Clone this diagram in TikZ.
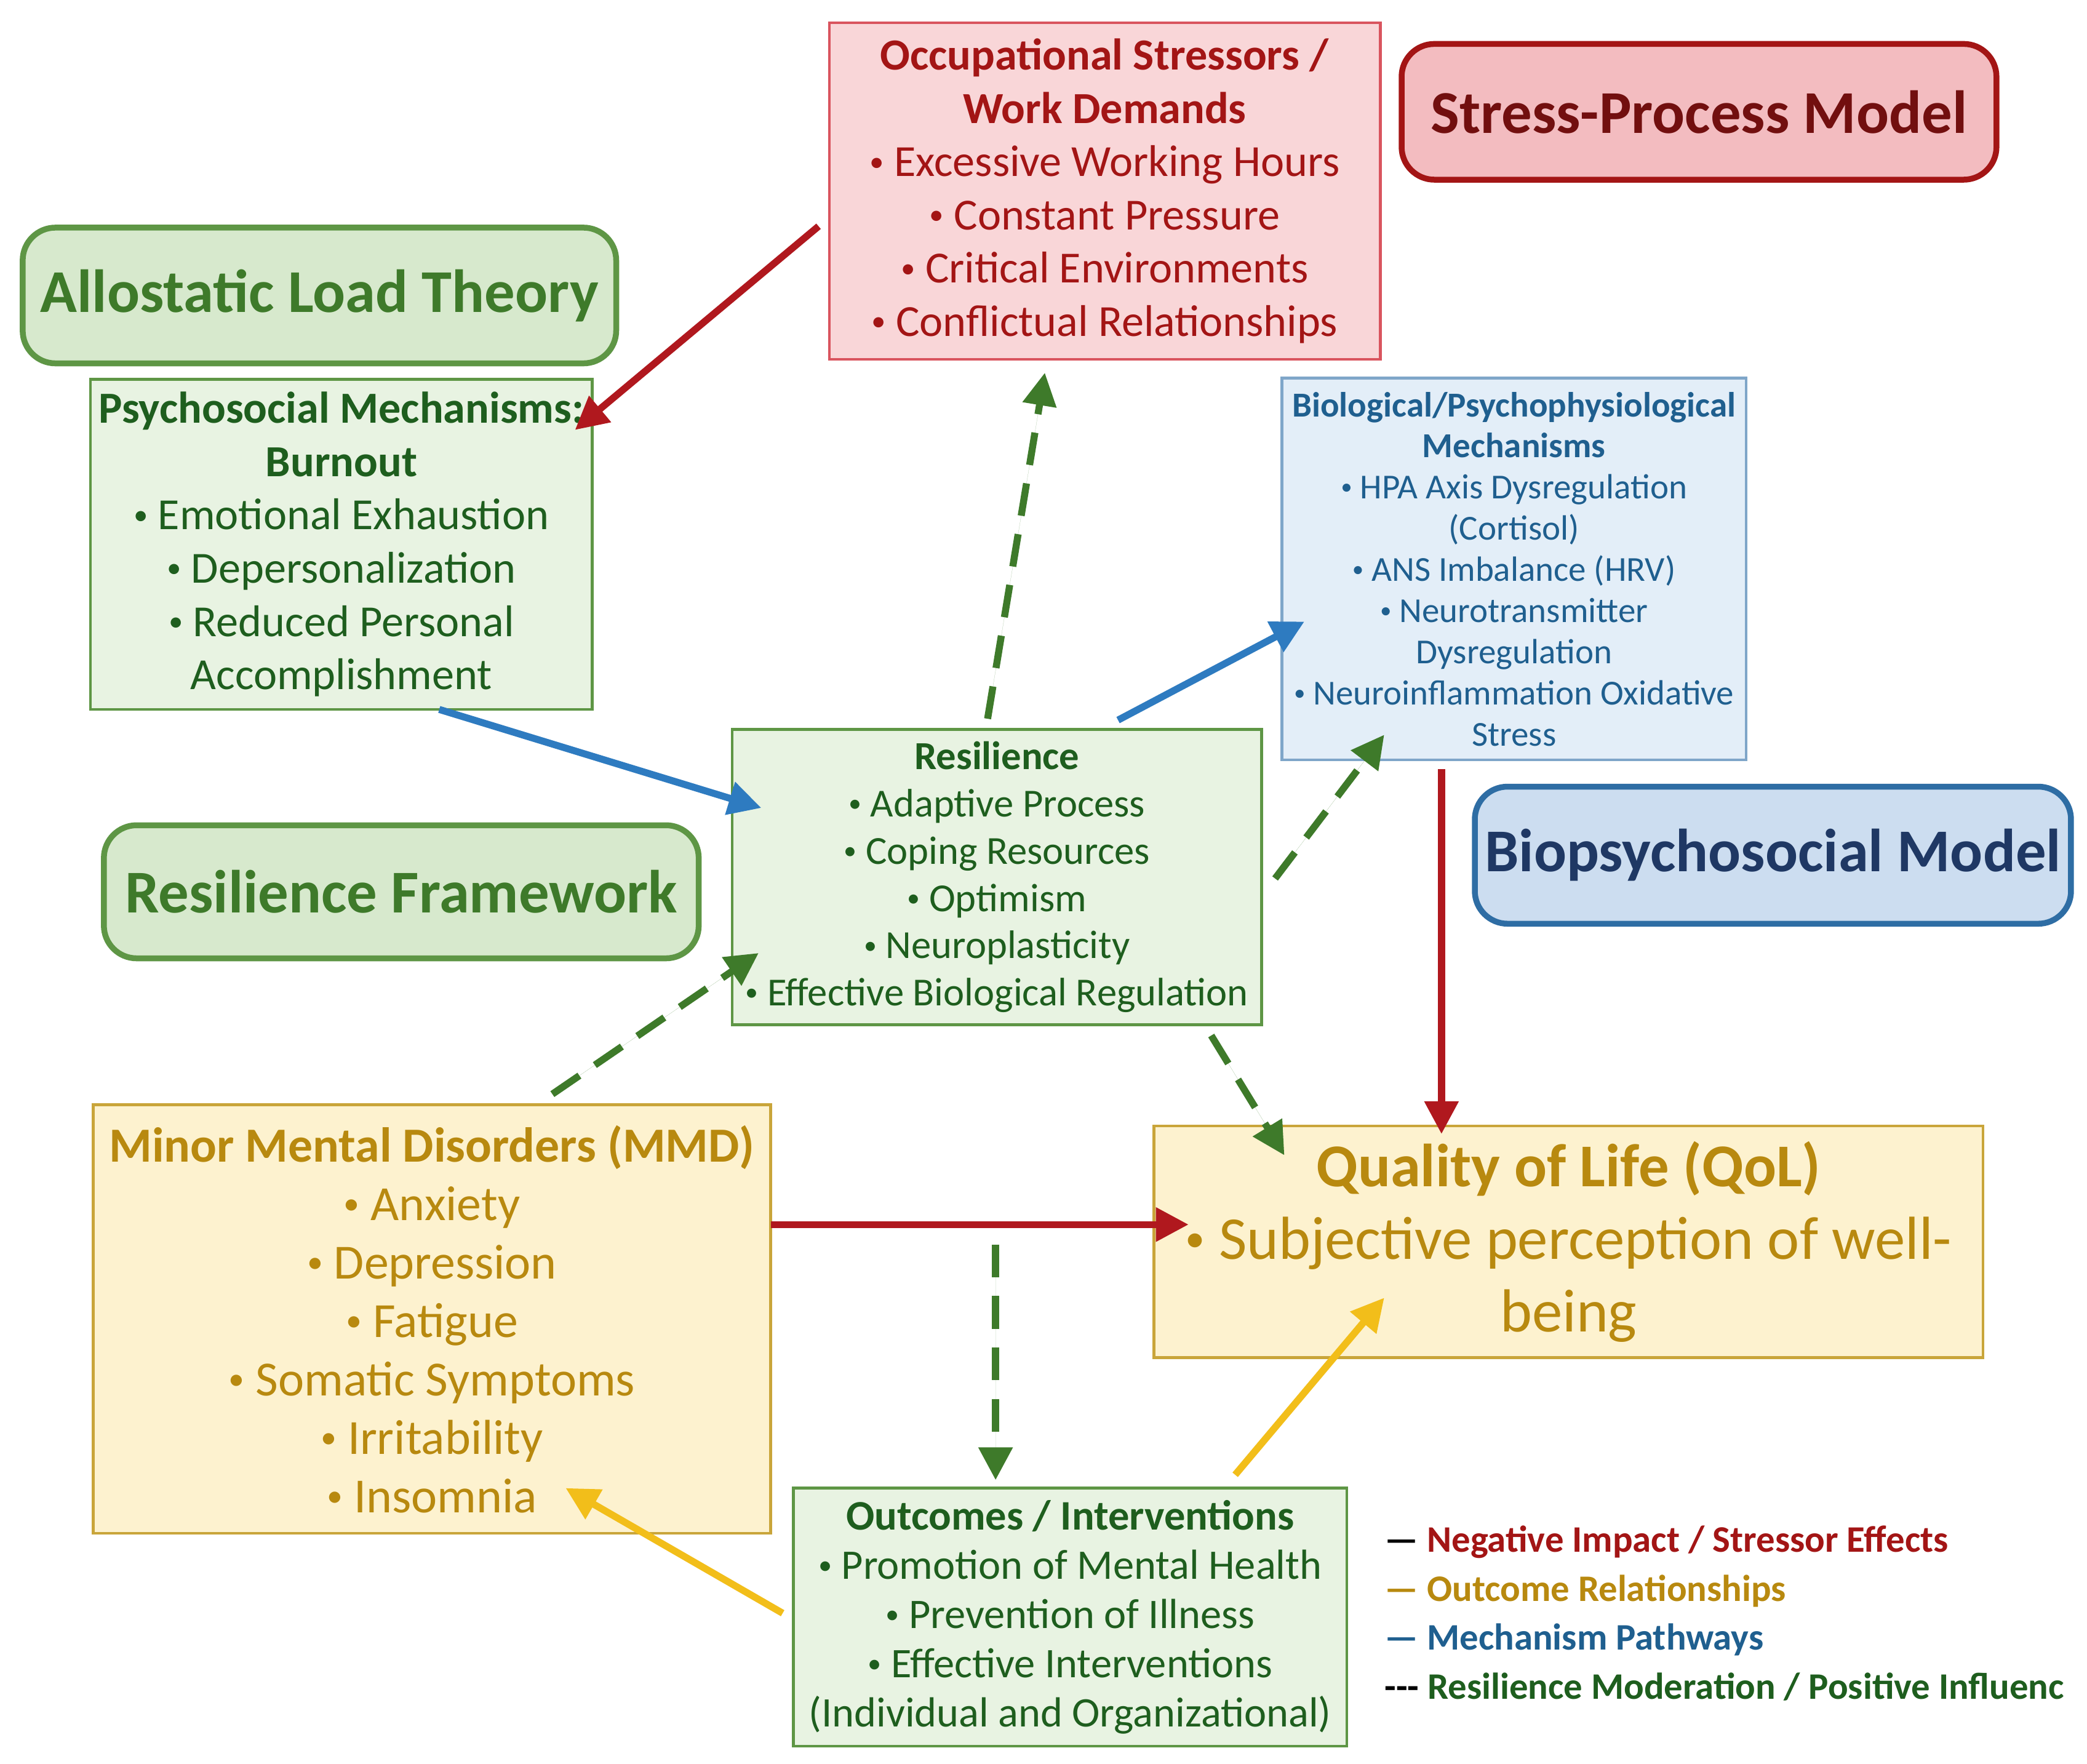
\documentclass[tikz,border=0pt]{standalone}
\usepackage{fontspec}
\setmainfont{Carlito}
\usetikzlibrary{arrows.meta}
\newcommand{\bl}{\raisebox{0.12em}{\scalebox{0.65}{•}}\ }
\definecolor{dred}{HTML}{A31515}
\definecolor{pinkf}{HTML}{F9D6D8}
\definecolor{pinkb}{HTML}{D9545E}
\definecolor{gfill}{HTML}{E8F3E2}
\definecolor{gfill2}{HTML}{D7E9CD}
\definecolor{gbord}{HTML}{5E9645}
\definecolor{dgreen}{HTML}{1E5E1E}
\definecolor{bfill}{HTML}{E3EEF8}
\definecolor{bfill2}{HTML}{CCDDF0}
\definecolor{bbord}{HTML}{7FA6C9}
\definecolor{bbord2}{HTML}{2E6DA4}
\definecolor{btext}{HTML}{1F5F8F}
\definecolor{dblue}{HTML}{1F3864}
\definecolor{yfill}{HTML}{FDF2CF}
\definecolor{ybord}{HTML}{C9A53A}
\definecolor{ytext}{HTML}{B8890F}
\definecolor{yarr}{HTML}{F2BE1A}
\definecolor{barr}{HTML}{2E7BC0}
\definecolor{garr}{HTML}{3E7A2A}
\definecolor{rarr}{HTML}{B0181E}
\tikzset{
 box/.style={draw, line width=1.2pt, align=center, inner sep=2pt},
 model/.style={draw, rounded corners=14pt, line width=2.5pt, align=center, font=\bfseries\fontsize{26}{30}\selectfont},
 arr/.style={line width=3pt, -{Triangle[length=14pt,width=14pt]}},
 darr/.style={arr, dash pattern=on 14pt off 8pt, draw=garr, fill=garr},
}
\begin{document}
\begin{tikzpicture}[x=0.02cm,y=-0.02cm]
\useasboundingbox[fill=white] (0,0) rectangle (1568,1325);
\node[box, fill=pinkf, draw=pinkb, minimum width=8.28cm, minimum height=5.06cm, text=dred, font=\fontsize{19}{22.8}\selectfont] (occ) at (830,143.5)
 {\textbf{Occupational Stressors /}\\\textbf{Work Demands}\\\bl Excessive Working Hours\\\bl Constant Pressure\\\bl Critical Environments\\\bl Conflictual Relationships};
\node[model, fill=pinkf!80!pinkb, draw=dred, text=dred!70!black, minimum width=8.94cm, minimum height=2.04cm] (spm) at (1276.5,84) {Stress-Process Model};
\node[model, fill=gfill2, draw=gbord, text=garr, minimum width=8.92cm, minimum height=2.04cm] (alt) at (240,222) {Allostatic Load Theory};
\node[box, fill=gfill, draw=gbord, minimum width=7.54cm, minimum height=4.96cm, font=\fontsize{19}{22.8}\selectfont, text=dgreen] (psy) at (256.5,409)
 {\textbf{Psychosocial Mechanisms:}\\\textbf{Burnout}\\\bl Emotional Exhaustion\\\bl Depersonalization\\\bl Reduced Personal\\Accomplishment};
\node[box, fill=bfill, draw=bbord, minimum width=6.98cm, minimum height=5.74cm, font=\fontsize{15}{17.6}\selectfont, text=btext] (bio) at (1137.5,427.5)
 {\textbf{Biological/Psychophysiological}\\\textbf{Mechanisms}\\\bl HPA Axis Dysregulation\\(Cortisol)\\\bl ANS Imbalance (HRV)\\\bl Neurotransmitter\\Dysregulation\\\bl Neuroinflammation Oxidative\\Stress};
\node[box, fill=gfill, draw=gbord, minimum width=7.96cm, minimum height=4.44cm, font=\fontsize{17}{20.2}\selectfont, text=dgreen] (res) at (749,659)
 {\textbf{Resilience}\\\bl Adaptive Process\\\bl Coping Resources\\\bl Optimism\\\bl Neuroplasticity\\\bl Effective Biological Regulation};
\node[model, fill=gfill2, draw=gbord, text=garr, minimum width=8.94cm, minimum height=2.0cm] (rf) at (301.5,670) {Resilience Framework};
\node[model, fill=bfill2, draw=bbord2, text=dblue, minimum width=8.96cm, minimum height=2.06cm] (bpm) at (1332,642.5) {Biopsychosocial Model};
\node[box, fill=yfill, draw=ybord, minimum width=10.18cm, minimum height=6.44cm, font=\fontsize{21}{25}\selectfont, text=ytext] (mmd) at (324.5,991)
 {\textbf{Minor Mental Disorders (MMD)}\\\bl Anxiety\\\bl Depression\\\bl Fatigue\\\bl Somatic Symptoms\\\bl Irritability\\\bl Insomnia};
\node[box, fill=yfill, draw=ybord, minimum width=12.46cm, minimum height=3.48cm, font=\fontsize{26}{31}\selectfont, text=ytext] (qol) at (1178.5,933)
 {\textbf{Quality of Life (QoL)}\\\bl Subjective perception of well-\\being};
\node[box, fill=gfill, draw=gbord, minimum width=8.32cm, minimum height=3.88cm, font=\fontsize{18}{21}\selectfont, text=dgreen] (out) at (804,1215)
 {\textbf{Outcomes / Interventions}\\\bl Promotion of Mental Health\\\bl Prevention of Illness\\\bl Effective Interventions\\(Individual and Organizational)};
% legend
\node[anchor=west, font=\bfseries\fontsize{16}{19}\selectfont, align=left, inner sep=0] (leg) at (1040,1212)
 {\textcolor{black}{—} \textcolor{dred}{Negative Impact / Stressor Effects}\\[2pt]
  \textcolor{ytext}{— Outcome Relationships}\\[2pt]
  \textcolor{btext}{— Mechanism Pathways}\\[2pt]
  \textcolor{black}{-{}-{}-} \textcolor{dgreen}{Resilience Moderation / Positive Influenc}};
% coordinates
\coordinate (a1) at (615,170); \coordinate (a2) at (432,323);
\coordinate (b1) at (330,533); \coordinate (b2) at (572,607);
\coordinate (c1) at (840,541); \coordinate (c2) at (980,467);
\coordinate (d1) at (742,540); \coordinate (d2) at (785,280);
\coordinate (e1) at (958,660); \coordinate (e2) at (1040,552);
\coordinate (f1) at (415,822); \coordinate (f2) at (570,716);
\coordinate (g1) at (910,778); \coordinate (g2) at (965,868);
\coordinate (h1) at (1083,578); \coordinate (h2) at (1083,852);
\coordinate (i1) at (579,920); \coordinate (i2) at (893,920);
\coordinate (j1) at (748,935); \coordinate (j2) at (748,1112);
\coordinate (k1) at (928,1108); \coordinate (k2) at (1040,975);
\coordinate (l1) at (588,1212); \coordinate (l2) at (425,1118);
\draw[arr, draw=rarr, fill=rarr] (a1) -- (a2);
\draw[arr, draw=barr, fill=barr] (b1) -- (b2);
\draw[arr, draw=barr, fill=barr] (c1) -- (c2);
\draw[darr] (d1) -- (d2);
\draw[darr] (e1) -- (e2);
\draw[darr] (f1) -- (f2);
\draw[darr] (g1) -- (g2);
\draw[arr, draw=rarr, fill=rarr] (h1) -- (h2);
\draw[arr, draw=rarr, fill=rarr] (i1) -- (i2);
\draw[darr] (j1) -- (j2);
\draw[arr, draw=yarr, fill=yarr] (k1) -- (k2);
\draw[arr, draw=yarr, fill=yarr] (l1) -- (l2);
\end{tikzpicture}
\end{document}
